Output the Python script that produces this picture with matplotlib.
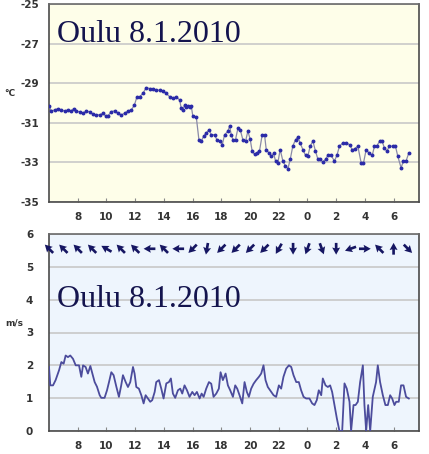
import numpy as np
import matplotlib
matplotlib.use("Agg")
import matplotlib.pyplot as plt

# ---------------- data ----------------
temp_hours = [
    6.00, 6.16, 6.39, 6.63, 6.86, 7.09, 7.32, 7.55, 7.72, 7.90,
    8.13, 8.37, 8.60, 8.83, 9.06, 9.29, 9.53, 9.76, 9.99, 10.11,
    10.34, 10.57, 10.80, 11.03, 11.27, 11.50, 11.73, 11.94, 12.13, 12.31,
    12.54, 12.77, 13.01, 13.24, 13.47, 13.70, 13.94, 14.17, 14.40, 14.63,
    14.86, 15.10, 15.21, 15.33, 15.44, 15.56, 15.68, 15.79, 15.91, 16.02,
    16.26, 16.44, 16.60, 16.77, 16.95, 17.14, 17.30, 17.53, 17.69, 17.88,
    18.07, 18.23, 18.46, 18.58, 18.69, 18.81, 18.99, 19.16, 19.32, 19.50,
    19.69, 19.85, 20.01, 20.15, 20.32, 20.48, 20.66, 20.85, 21.01, 21.13,
    21.31, 21.48, 21.64, 21.78, 21.94, 22.10, 22.29, 22.47, 22.64, 22.80,
    22.98, 23.17, 23.33, 23.49, 23.68, 23.87, 24.03, 24.19, 24.38, 24.56,
    24.72, 24.89, 25.07, 25.26, 25.42, 25.65, 25.88, 26.05, 26.23, 26.46,
    26.70, 26.93, 27.11, 27.28, 27.51, 27.74, 27.90, 28.09, 28.27, 28.51,
    28.67, 28.83, 29.02, 29.20, 29.36, 29.53, 29.71, 29.94, 30.13, 30.29,
    30.52, 30.69, 30.87, 31.06,
]
temp_values = [
    -30.15, -30.40, -30.35, -30.28, -30.35, -30.40, -30.35, -30.40, -30.28, -30.40,
    -30.45, -30.52, -30.40, -30.45, -30.57, -30.60, -30.60, -30.52, -30.68, -30.65,
    -30.43, -30.40, -30.52, -30.60, -30.52, -30.40, -30.35, -30.12, -29.68, -29.68,
    -29.52, -29.22, -29.27, -29.27, -29.35, -29.35, -29.38, -29.52, -29.68, -29.77,
    -29.68, -29.85, -30.27, -30.35, -30.10, -30.22, -30.15, -30.18, -30.15, -30.68,
    -30.72, -31.85, -31.93, -31.68, -31.52, -31.35, -31.60, -31.60, -31.85, -31.93,
    -32.10, -31.60, -31.43, -31.15, -31.60, -31.85, -31.85, -31.27, -31.35, -31.85,
    -31.93, -31.43, -31.82, -32.43, -32.60, -32.52, -32.43, -31.60, -31.60, -32.35,
    -32.52, -32.68, -32.55, -32.93, -33.02, -32.35, -32.93, -33.18, -33.32, -32.85,
    -32.18, -31.85, -31.72, -32.02, -32.35, -32.65, -32.68, -32.18, -31.93, -32.43,
    -32.82, -32.85, -32.98, -32.85, -32.65, -32.65, -32.93, -32.65, -32.18, -32.02,
    -32.02, -32.10, -32.35, -32.32, -32.18, -33.02, -33.05, -32.35, -32.52, -32.65,
    -32.18, -32.18, -31.93, -31.93, -32.27, -32.43, -32.18, -32.18, -32.18, -32.68,
    -33.27, -32.93, -32.93, -32.52,
]

wind_hours = [
    6.00, 6.09, 6.28, 6.46, 6.70, 6.86, 7.02, 7.16, 7.32, 7.48,
    7.67, 7.86, 8.09, 8.25, 8.37, 8.55, 8.71, 8.88, 9.02, 9.18,
    9.34, 9.53, 9.64, 9.87, 10.04, 10.18, 10.34, 10.50, 10.69, 10.87,
    11.03, 11.15, 11.34, 11.50, 11.66, 11.85, 11.96, 12.08, 12.26, 12.43,
    12.59, 12.73, 12.89, 13.05, 13.19, 13.36, 13.47, 13.66, 13.82, 13.98,
    14.17, 14.35, 14.49, 14.63, 14.79, 14.98, 15.14, 15.28, 15.44, 15.61,
    15.79, 15.98, 16.14, 16.30, 16.49, 16.63, 16.77, 16.95, 17.14, 17.30,
    17.46, 17.65, 17.83, 17.95, 18.11, 18.30, 18.46, 18.62, 18.81, 18.97,
    19.11, 19.27, 19.46, 19.62, 19.78, 19.92, 20.08, 20.25, 20.43, 20.62,
    20.78, 20.94, 21.08, 21.24, 21.48, 21.64, 21.82, 22.01, 22.17, 22.33,
    22.52, 22.71, 22.87, 23.03, 23.22, 23.40, 23.56, 23.73, 23.91, 24.14,
    24.33, 24.49, 24.65, 24.79, 24.96, 25.07, 25.26, 25.42, 25.58, 25.72,
    25.88, 26.05, 26.23, 26.42, 26.58, 26.74, 26.93, 27.04, 27.21, 27.35,
    27.51, 27.67, 27.86, 27.97, 28.09, 28.23, 28.37, 28.55, 28.78, 28.90,
    29.06, 29.25, 29.43, 29.60, 29.76, 29.90, 30.06, 30.18, 30.36, 30.52,
    30.69, 30.87, 31.06,
]
wind_speed = [
    1.95, 1.39, 1.39, 1.55, 1.85, 2.10, 2.05, 2.30, 2.25, 2.30,
    2.20, 2.00, 2.00, 1.65, 2.00, 1.95, 1.75, 1.98, 1.75, 1.49,
    1.35, 1.09, 1.01, 1.01, 1.24, 1.49, 1.79, 1.70, 1.35, 1.04,
    1.39, 1.70, 1.49, 1.34, 1.49, 1.95, 1.75, 1.34, 1.29, 1.09,
    0.84, 1.09, 0.99, 0.89, 0.94, 1.19, 1.49, 1.55, 1.29, 0.99,
    1.45, 1.49, 1.60, 1.14, 1.01, 1.24, 1.29, 1.14, 1.39, 1.24,
    1.04, 1.19, 1.09, 1.19, 0.99, 1.14, 1.04, 1.29, 1.49, 1.44,
    1.04, 1.14, 1.29, 1.79, 1.55, 1.75, 1.39, 1.24, 1.04, 1.39,
    1.29, 1.09, 0.84, 1.49, 1.19, 1.04, 1.29, 1.44, 1.55, 1.65,
    1.75, 2.00, 1.55, 1.34, 1.19, 1.09, 1.04, 1.39, 1.29, 1.65,
    1.90, 2.00, 1.95, 1.70, 1.49, 1.49, 1.24, 1.04, 0.99, 0.99,
    0.84, 0.79, 0.94, 1.24, 1.09, 1.60, 1.39, 1.34, 1.39, 1.19,
    0.79, 0.38, 0.00, 0.00, 1.45, 1.29, 0.89, 0.00, 0.79, 0.79,
    0.89, 1.49, 2.00, 0.79, 0.00, 0.79, 0.00, 1.04, 1.49, 2.00,
    1.49, 1.09, 0.79, 0.79, 1.09, 0.99, 0.79, 0.89, 0.89, 1.39,
    1.39, 1.04, 0.99,
]

# wind direction arrows: one per hour, bearing the arrow points to (deg)
arrow_hours = list(range(6, 32))
arrow_bearing = [315, 315, 315, 315, 300, 315, 315, 270, 315, 270,
                 225, 190, 225, 225, 225, 225, 210, 180, 200, 160,
                 180, 250, 90, 315, 0, 135]
arrow_level = 5.55

x_ticks = list(range(8, 31, 2))
x_tick_labels = [str(h % 24) for h in x_ticks]
temp_ticks = [-35, -33, -31, -29, -27, -25]
wind_ticks = [0, 1, 2, 3, 4, 5, 6]
title_text = "Oulu 8.1.2010"

# ---------------- figure ----------------
W, H = 429, 454
fig = plt.figure(figsize=(W / 100, H / 100), dpi=100)
fig.patch.set_facecolor("white")

xlim = (6.0, 31.77)
spine_col = "#4a4a4a"
grid_col = "#c8c8c8"
tick_col = "#333333"


def style_axes(ax, face):
    ax.set_facecolor(face)
    ax.set_xlim(*xlim)
    for s in ax.spines.values():
        s.set_color(spine_col)
        s.set_linewidth(1.2)
    ax.spines["top"].set_color("#6a6a6a")
    ax.set_xticks(x_ticks)
    ax.set_xticklabels(x_tick_labels)
    ax.tick_params(axis="x", direction="in", length=3, color="#888888",
                   pad=7, labelsize=7.5, labelcolor=tick_col)
    ax.tick_params(axis="y", length=0, pad=14, labelsize=7.5,
                   labelcolor=tick_col)
    for lab in ax.get_xticklabels() + ax.get_yticklabels():
        lab.set_fontweight("bold")
    ax.grid(axis="y", color=grid_col, lw=1.2)
    ax.set_axisbelow(True)


# top: temperature
ax1 = fig.add_axes([49 / W, 1 - 202 / H, 370 / W, 198 / H])
style_axes(ax1, "#fefee9")
ax1.set_ylim(-35, -25)
ax1.set_yticks(temp_ticks)
ax1.set_yticklabels([str(t) for t in temp_ticks])
for lab in ax1.get_yticklabels():
    lab.set_fontweight("bold")
    lab.set_horizontalalignment("center")
ax1.plot(temp_hours, temp_values, color="#8a8aa8", lw=0.9, zorder=3)
ax1.plot(temp_hours, temp_values, ls="none", marker="o", ms=1.8,
         color="#2b2ba8", mec="#2b2ba8", zorder=4)
ax1.text(0.022, 0.808, title_text, transform=ax1.transAxes,
         family="Liberation Serif", fontsize=23, color="#14144e",
         ha="left", va="baseline")

# bottom: wind
ax2 = fig.add_axes([49 / W, 1 - 431 / H, 370 / W, 197 / H])
style_axes(ax2, "#eef5fd")
ax2.set_ylim(0, 6)
ax2.set_yticks(wind_ticks)
ax2.set_yticklabels([str(t) for t in wind_ticks])
for lab in ax2.get_yticklabels():
    lab.set_fontweight("bold")
    lab.set_horizontalalignment("center")
ax2.plot(wind_hours, wind_speed, color="#4c4c9c", lw=1.3, zorder=3,
         clip_on=True)
b = np.deg2rad(arrow_bearing)
ax2.quiver(arrow_hours, [arrow_level] * len(arrow_hours), np.sin(b), np.cos(b),
           angles="uv", scale_units="inches", scale=8.5, pivot="middle",
           color="#161662", width=0.0072, headwidth=3.0, headlength=2.7,
           headaxislength=2.4, zorder=5, clip_on=False)
ax2.text(0.022, 0.629, title_text, transform=ax2.transAxes,
         family="Liberation Serif", fontsize=23, color="#14144e",
         ha="left", va="baseline")

# unit labels
fig.text(10 / W, 1 - 93 / H, "°C", fontsize=6.5, fontweight="bold",
         color=tick_col, ha="center", va="center")
fig.text(14 / W, 1 - 323 / H, "m/s", fontsize=6.5, fontweight="bold",
         color=tick_col, ha="center", va="center")

fig.savefig("out.png", dpi=100)
